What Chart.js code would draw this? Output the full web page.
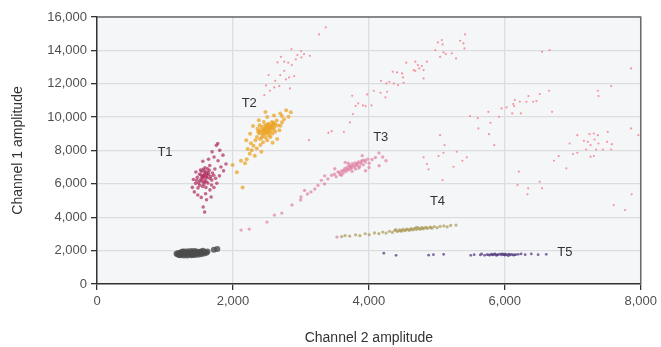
<!DOCTYPE html>
<html lang="en">
<head>
<meta charset="UTF-8">
<title>Channel amplitude scatter</title>
<script src="https://cdn.jsdelivr.net/npm/chart.js"></script>
<style>
  html, body { margin: 0; padding: 0; background: #fff; }
  #wrap { width: 661px; height: 347px; }
</style>
</head>
<body>
<div id="wrap"><canvas id="scatter"></canvas></div>
<script>
// values: [channel 2, channel 1]
const negative = [[1170,1810],[1190,1770],[1195,1860],[1230,1730],[1240,1815],[1235,1900],[1280,1705],[1285,1790],[1280,1875],[1290,1945],[1330,1710],[1335,1800],[1330,1880],[1340,1960],[1385,1720],[1390,1805],[1385,1890],[1390,1975],[1435,1735],[1440,1825],[1435,1905],[1440,1985],[1485,1760],[1490,1845],[1485,1930],[1530,1790],[1535,1870],[1530,1955],[1575,1830],[1580,1910],[1610,1880],[1625,1950],[1210,1740],[1260,1950],[1560,1990],[1360,1840],[1460,1870],[1310,1830],[1410,1760],[1510,1900],[1720,2050],[1770,2090]];

const t1 = [[1512,6180],[1547,6420],[1583,6610],[1531,6290],[1566,6505],[1604,6710],[1495,6045],[1622,6365],[1588,6230],[1643,6560],[1561,6880],[1607,6125],[1674,6440],[1538,6745],[1589,6970],[1652,6810],[1699,6655],[1476,6390],[1513,5915],[1571,5985],[1632,6045],[1690,6225],[1718,6520],[1734,6890],[1659,7105],[1509,6580],[1465,6210],[1556,5840],[1603,5790],[1685,5935],[1626,6905],[1578,6095],[1544,6150],[1617,6480],[1598,6395],[1663,6315],[1579,6765],[1522,6835],[1486,5760],[1745,6330],[1553,6355],[1611,6590],[1572,6470],[1637,6680],[1529,6530],
  [1432,5520],[1451,6030],[1418,6260],[1483,5330],[1534,5190],[1598,5410],[1662,5640],[1763,6040],[1802,6480],[1824,7010],[1781,7390],[1722,7610],[1693,7920],[1806,8010],[1757,8310],[1853,7720],[1641,7480],[1557,7360],[1612,5050],[1562,4610],[1584,4310],[1403,5790],[1898,7190],[1862,6780],[1679,5210],[1777,8420],[1455,6710],[1721,5780]];

const t2 = [[2352,8815],[2384,9037],[2405,9212],[2398,8693],[2423,9418],[2437,8906],[2452,9118],[2466,9305],[2474,9512],[2483,8784],[2496,9026],[2503,9207],[2514,9391],[2527,9608],[2533,8912],[2547,9124],[2555,9318],[2566,9487],[2574,9702],[2582,9015],[2598,9236],[2614,9403],[2621,9585],[2362,9296],[2331,8612],[2442,8497],[2505,8617],[2644,9794],[2455,9706],[2391,9508],[2552,8803],[2623,9127],[2418,9066],[2489,9391],[2537,9263],[2462,8993],[2578,9386],[2510,9565],[2427,8784],[2598,9649],[2476,9175],[2540,9450],[2662,9505],[2372,9143],[2520,9080],[2445,9260],[2590,9540],
  [2303,8290],[2276,8020],[2248,7810],[2203,7480],[2351,8120],[2404,8330],[2218,8090],[2322,7690],[2419,7920],[2178,7230],[2118,7380],[2253,9010],[2296,9470],[2381,9810],[2503,10010],[2604,10090],[2697,10220],[2752,9880],[2701,9480],[2783,10410],[2684,9210],[2722,9690],[2651,8690],[2583,8470],[2818,10020],[2852,10290],[2058,6690],[2142,5790],[2478,10310],[2197,8610],[1995,7130],[2265,8440],[2720,10060]];

const t3 = [[3452,6520],[3493,6580],[3518,6430],[3546,6710],[3577,6560],[3603,6790],[3619,6640],[3647,6920],[3663,6740],[3684,7010],[3703,6840],[3718,7120],[3741,6940],[3757,7210],[3783,7010],[3798,7260],[3806,6890],[3823,7120],[3847,7310],[3862,7040],[3884,7220],[3903,7410],[3918,7140],[3948,7310],[3983,7480],[4004,7240],[4047,7460],[4096,7580],[3697,7240],[3596,6510],[3752,6760],[3853,6950],[3731,7050],[3812,7150],[3678,6880],[3771,7090],[3836,7230],[3633,6800],[3570,6690],[3888,7330],[3940,7420],[3725,6950],
  [3302,6210],[3348,5990],[3251,5910],[3397,6290],[3204,5690],[3148,5520],[3097,5390],[3002,5210],[3053,5610],[3351,6480],[3498,6910],[3652,7290],[3902,7690],[4148,7850],[4203,7610],[4252,7390],[4151,7090],[4003,6980],[3951,6790],[2996,5030],[2870,4730],[2720,4250],[2610,4130],[2500,3710],[2240,3290],[2120,3230],[3530,2810]];

const t4 = [[3718,2870],[3805,2945],[3868,2895],[3946,3010],[4005,2955],[4083,3060],[4147,3015],[4205,3110],[4253,3050],[4302,3160],[4346,3095],[4383,3210],[4418,3145],[4452,3240],[4477,3165],[4503,3270],[4528,3195],[4561,3290],[4597,3215],[4623,3320],[4648,3245],[4684,3340],[4702,3265],[4731,3360],[4759,3285],[4782,3380],[4806,3305],[4833,3400],[4861,3325],[4897,3410],[4928,3345],[4962,3440],[5004,3375],[5048,3450],[5103,3480],[5152,3425],[5204,3510],[5282,3530],[4396,3255],[4703,3390],[4540,3240],[4615,3270],[4665,3300],[4740,3310],[4790,3345],[4850,3370],[4580,3250],[4480,3215],[4910,3380],[4440,3190],[3600,2840],[3650,2900]];

const t5 = [[5702,1720],[5738,1765],[5781,1730],[5803,1785],[5829,1740],[5862,1770],[5878,1715],[5904,1760],[5931,1795],[5952,1740],[5979,1775],[6003,1730],[6028,1760],[6061,1790],[6079,1740],[6102,1775],[6128,1730],[6163,1760],[6198,1780],[5851,1800],[5962,1810],[6052,1700],[5760,1745],[5890,1750],[5990,1755],[6140,1750],[5820,1760],[6010,1785],
  [4220,1850],[4400,1720],[4880,1730],[4950,1760],[5100,1780],[5500,1720],[5550,1760],[5640,1740],[5660,1800],[6240,1800],[6300,1760],[6390,1800],[6490,1760],[6610,1780]];

const rain = [[3365,15377],[3267,14957],[2861,14077],[3003,13957],[2949,13717],[3047,13777],[3131,13675],[2706,13615],[2925,13460],[3008,13580],[2656,13280],[2754,13320],[2813,13260],[2867,13118],[2754,12777],[2525,12519],[2696,12519],[2901,12460],[2827,12380],[2779,12260],[2622,12178],[2486,11900],[2681,11860],[2608,11780],[2838,11720],[2545,11580],[2461,11321],
  [3755,11280],[3975,11360],[4073,11580],[3843,10820],[3804,10660],[3912,10700],[3951,10660],[4039,10700],[3765,10180],[3721,9680],[3633,9120],[3453,9160],[3404,9060],[3120,8620],
  [5416,14957],[5343,14577],[5391,14417],[5406,14117],[5073,14616],[5015,14476],[5084,14357],[4977,14017],[5098,13877],[5132,13777],[5220,13817],[5048,13615],[5283,13515],[4853,13320],[4683,13320],[4551,13260],[4722,13118],[4780,13058],[4741,12920],[4805,12818],[4683,12777],[4658,12818],[4351,12718],[4414,12678],[4488,12618],[4502,12380],[4805,12320],[4180,12178],[4302,12118],[4258,12018],[4366,12018],[4429,11920],[4512,12060],[4171,11460],[4268,11520],[4244,11181],
  [6548,13915],[6660,14017],[7857,12920],[6651,11580],[6514,11381],[6348,11261],[6417,10920],[6465,10960],[6319,10920],[6221,10920],[6148,11021],[6124,10780],[6138,10660],[6025,10580],[5953,10520],[6695,10320],[6109,10220],[6236,10220],[5758,10320],[5914,10020],[5489,10060],[5601,9940],[5791,9660],[5611,9320],[5768,8980],[5048,8920],
  [7369,11580],[7564,11860],[7379,11261],[7857,9320],[7965,8920],
  [5113,8320],[5845,8320],[5098,7866],[5293,7926],[4805,7590],[5025,7667],[5440,7590],[5376,7386],[4853,7188],[4878,6870],[5245,7027],[5084,6230],
  [7066,8920],[7247,8980],[7310,9020],[7369,8920],[7515,9120],[6954,8420],[7164,8580],[7222,8520],[7261,8320],[7320,8660],[7379,8420],[7505,8520],[7574,8380],[7197,8060],[7344,8060],[7442,8060],[7564,8060],[7003,7787],[7066,7866],[7261,7627],[7310,7667],[6793,7667],[6724,7386],[6905,6930],[6206,6730],[6187,5930],[6514,6130],[6343,5733],[6548,5733],[6333,5373],[7867,5373],[7603,4732],[7769,4432]];

const clusterNames = ['T1', 'T2', 'T3', 'T4', 'T5'];
const clusterLabelAt = [[1000,7900],[2240,10840],[4175,8800],[5010,4970],[6885,1915]];

const xTicks = [0, 2000, 4000, 6000, 8000];
const yTicks = [0, 2000, 4000, 6000, 8000, 10000, 12000, 14000, 16000];

const FONT = "'Liberation Sans', Arial, sans-serif";

function pts(arr) { return arr.map(p => ({ x: p[0], y: p[1] })); }

// plot background, top/right frame and cluster names
const frame = {
  id: 'frame',
  beforeDraw(chart) {
    const a = chart.chartArea, c = chart.ctx;
    c.save();
    c.fillStyle = '#f5f6f7';
    c.fillRect(a.left, a.top, a.right - a.left, a.bottom - a.top);
    c.restore();
  },
  afterDraw(chart) {
    const a = chart.chartArea, c = chart.ctx;
    c.save();
    c.strokeStyle = '#6a6a6a';
    c.lineWidth = 1.5;
    c.beginPath();
    c.moveTo(a.left, a.top);
    c.lineTo(a.right, a.top);
    c.lineTo(a.right, a.bottom);
    c.stroke();
    c.fillStyle = '#333';
    c.font = '13px ' + FONT;
    c.textAlign = 'center';
    c.textBaseline = 'middle';
    const xs = chart.scales.x, ys = chart.scales.y;
    clusterNames.forEach((n, i) => {
      c.fillText(n, xs.getPixelForValue(clusterLabelAt[i][0]), ys.getPixelForValue(clusterLabelAt[i][1]));
    });
    c.restore();
  }
};

new Chart(document.getElementById('scatter'), {
  type: 'scatter',
  data: {
    datasets: [
      { label: 'NTC', data: pts(negative), backgroundColor: 'rgba(75,75,75,0.8)', pointRadius: 3 },
      { label: 'T5', data: pts(t5), backgroundColor: 'rgba(85,60,130,0.75)', pointRadius: 1.4 },
      { label: 'T4', data: pts(t4), backgroundColor: 'rgba(175,158,95,0.75)', pointRadius: 1.6 },
      { label: 'T3', data: pts(t3), backgroundColor: 'rgba(222,120,160,0.65)', pointRadius: 1.7 },
      { label: 'T2', data: pts(t2), backgroundColor: 'rgba(235,160,25,0.7)', pointRadius: 2 },
      { label: 'T1', data: pts(t1), backgroundColor: 'rgba(175,45,95,0.7)', pointRadius: 1.8 },
      { label: 'rain', data: pts(rain), backgroundColor: 'rgba(245,110,125,0.7)', pointRadius: 1.1 }
    ]
  },
  options: {
    responsive: true,
    maintainAspectRatio: false,
    animation: false,
    layout: { padding: { top: 17, right: 18, left: 0, bottom: 0 } },
    elements: { point: { borderWidth: 0, hoverRadius: 2 } },
    plugins: { legend: { display: false }, tooltip: { enabled: false } },
    scales: {
      x: {
        type: 'linear', min: 0, max: 8000,
        afterBuildTicks: s => { s.ticks = xTicks.map(v => ({ value: v })); },
        afterFit: s => { s.height = 63; },
        ticks: { color: '#505050', font: { family: FONT, size: 13 }, padding: 4,
                 callback: v => v.toLocaleString('en-US') },
        grid: { color: '#dcdddf', lineWidth: 1.3, tickLength: 6, tickColor: '#333' },
        border: { color: '#333', width: 1.5 },
        title: { display: true, text: 'Channel 2 amplitude', color: '#333',
                 font: { family: FONT, size: 14 }, padding: { top: 0, bottom: 0 } }
      },
      y: {
        type: 'linear', min: 0, max: 16000,
        afterBuildTicks: s => { s.ticks = yTicks.map(v => ({ value: v })); },
        afterFit: s => { s.width = 97; },
        ticks: { color: '#505050', font: { family: FONT, size: 13 }, padding: 4,
                 callback: v => v.toLocaleString('en-US') },
        grid: { color: '#dcdddf', lineWidth: 1.3, tickLength: 6, tickColor: '#333' },
        border: { color: '#333', width: 1.5 },
        title: { display: true, text: 'Channel 1 amplitude', color: '#333',
                 font: { family: FONT, size: 14 }, padding: { top: 10, bottom: 0 } }
      }
    }
  },
  plugins: [frame]
});
</script>
</body>
</html>
